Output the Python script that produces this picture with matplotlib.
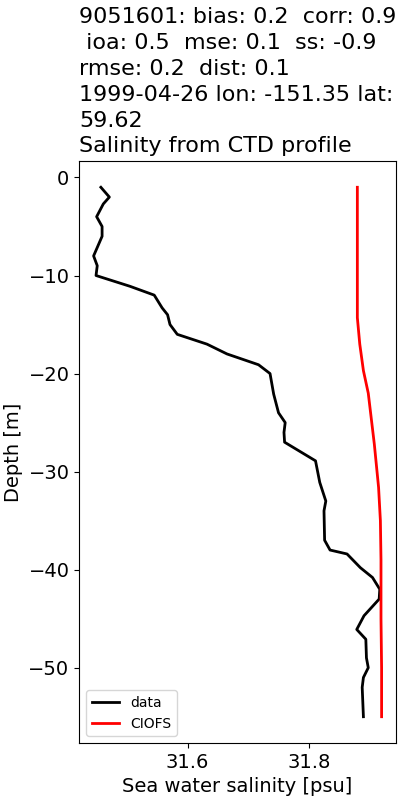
import matplotlib
matplotlib.use("Agg")
import matplotlib.pyplot as plt

# Observed CTD salinity profile
data_depth = [-1, -2, -2.7, -4, -5, -6, -8, -9, -10, -11.1, -12, -13.3, -14, -15, -16,
              -17, -18, -19.1, -20, -22.1, -24, -25, -26, -27, -28.9, -31.1, -33, -34,
              -37, -38, -38.4, -39.8, -40.8, -42, -43, -44.7, -46.1, -47.1, -49, -50,
              -51, -52, -55]
data_sal = [31.457, 31.471, 31.461, 31.450, 31.459, 31.459, 31.445, 31.451, 31.449,
            31.505, 31.545, 31.558, 31.567, 31.571, 31.583, 31.632, 31.665, 31.717,
            31.736, 31.742, 31.750, 31.761, 31.759, 31.760, 31.811, 31.818, 31.828,
            31.825, 31.826, 31.835, 31.863, 31.885, 31.905, 31.917, 31.916, 31.891,
            31.879, 31.894, 31.895, 31.898, 31.890, 31.888, 31.890]

# CIOFS model profile
model_depth = [-1, -5, -10, -14.3, -17, -19.7, -22, -27.2, -31.6, -35, -39, -45, -50, -55]
model_sal = [31.880, 31.880, 31.880, 31.880, 31.884, 31.890, 31.898, 31.908, 31.915,
             31.918, 31.919, 31.919, 31.920, 31.920]

title = ("9051601: bias: 0.2  corr: 0.9\n ioa: 0.5  mse: 0.1  ss: -0.9\n"
         "rmse: 0.2  dist: 0.1\n1999-04-26 lon: -151.35 lat:\n59.62\n"
         "Salinity from CTD profile")

fig, ax = plt.subplots(figsize=(4, 8), dpi=100)
fig.subplots_adjust(left=0.198, right=0.99, top=0.799, bottom=0.071)
ax.plot(data_sal, data_depth, color="black", lw=2, label="data")
ax.plot(model_sal, model_depth, color="red", lw=2, label="CIOFS")
ax.set_xticks([31.6, 31.8])
ax.set_xlabel("Sea water salinity [psu]", fontsize=14)
ax.set_ylabel("Depth [m]", fontsize=14)
ax.tick_params(labelsize=14)
ax.set_title(title, loc="left", fontsize=16, linespacing=1.37)
ax.legend(loc="lower left", fontsize=10)
fig.savefig("out.png")
